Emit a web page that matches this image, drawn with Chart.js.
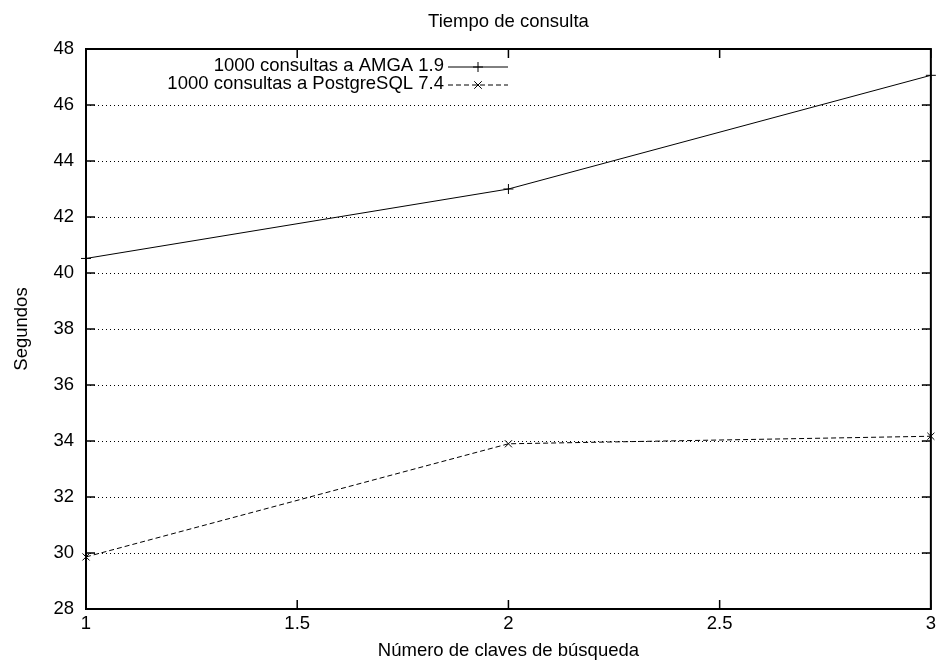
<!DOCTYPE html>
<html>
<head>
<meta charset="utf-8">
<script src="https://cdn.jsdelivr.net/npm/chart.js@4/dist/chart.umd.min.js"></script>
<style>
    html, body { margin: 0; padding: 0; background: #fff; }
    canvas { display: block; }
</style>
</head>
<body>
<canvas id="tiempoChart" width="940" height="664"></canvas>
<script>
// Data
const claves = [1, 2, 3];
const amgaSegundos = [40.52, 43.0, 47.06];
const postgresSegundos = [29.86, 33.9, 34.17];
const seriesLabels = ['1000 consultas a AMGA 1.9', '1000 consultas a PostgreSQL 7.4'];
const xTicks = [1, 1.5, 2, 2.5, 3];
const yTicks = [28, 30, 32, 34, 36, 38, 40, 42, 44, 46, 48];
const chartTitle = 'Tiempo de consulta';

const FONT = '"Liberation Sans", Arial, Helvetica, sans-serif';
const FONT_SIZE = 18.5;

const toPoints = (xs, ys) => xs.map((x, i) => ({ x: x, y: ys[i] }));

// Dotted horizontal grid, drawn under the data
const gridPlugin = {
    id: 'dottedGrid',
    beforeDatasetsDraw(chart) {
        const ctx = chart.ctx;
        const area = chart.chartArea;
        const ys = chart.scales.y;
        ctx.save();
        ctx.strokeStyle = '#000';
        ctx.lineWidth = 1;
        ctx.setLineDash([1, 3]);
        ctx.beginPath();
        yTicks.forEach(v => {
            const py = Math.round(ys.getPixelForValue(v)) + 0.5;
            ctx.moveTo(area.left, py);
            ctx.lineTo(area.right, py);
        });
        ctx.stroke();
        ctx.restore();
    }
};

// Draws the gnuplot-like frame, inward tick marks, title and legend
const framePlugin = {
    id: 'frame',
    afterDraw(chart) {
        const ctx = chart.ctx;
        const area = chart.chartArea;
        const xs = chart.scales.x;
        const ys = chart.scales.y;
        const tick = 9;

        ctx.save();
        ctx.strokeStyle = '#000';
        ctx.lineWidth = 1.5;
        ctx.setLineDash([]);

        // inward ticks
        ctx.beginPath();
        xTicks.forEach(v => {
            const px = xs.getPixelForValue(v);
            ctx.moveTo(px, area.bottom);
            ctx.lineTo(px, area.bottom - tick);
            ctx.moveTo(px, area.top);
            ctx.lineTo(px, area.top + tick);
        });
        yTicks.forEach(v => {
            const py = ys.getPixelForValue(v);
            ctx.moveTo(area.left, py);
            ctx.lineTo(area.left + tick, py);
            ctx.moveTo(area.right, py);
            ctx.lineTo(area.right - tick, py);
        });
        ctx.stroke();

        // border
        ctx.lineWidth = 2;
        ctx.strokeRect(area.left, area.top, area.right - area.left, area.bottom - area.top);

        // title, centred over the plot
        ctx.font = FONT_SIZE + 'px ' + FONT;
        ctx.fillStyle = '#000';
        ctx.textAlign = 'center';
        ctx.textBaseline = 'middle';
        ctx.fillText(chartTitle, (area.left + area.right) / 2, 22);

        // legend
        const textRight = 444;
        const sampleLeft = 448;
        const sampleRight = 508;
        const rows = [66, 84];
        ctx.textAlign = 'right';
        chart.data.datasets.forEach((ds, i) => {
            const y = rows[i];
            ctx.fillText(ds.label, textRight, y);
            ctx.lineWidth = 1;
            ctx.setLineDash(ds.borderDash || []);
            ctx.beginPath();
            ctx.moveTo(sampleLeft, y + 1);
            ctx.lineTo(sampleRight, y + 1);
            ctx.stroke();
            ctx.setLineDash([]);
            const cx = (sampleLeft + sampleRight) / 2;
            const r = ds.pointRadius;
            ctx.beginPath();
            if (ds.pointStyle === 'cross') {
                ctx.moveTo(cx - r, y + 1);
                ctx.lineTo(cx + r, y + 1);
                ctx.moveTo(cx, y + 1 - r);
                ctx.lineTo(cx, y + 1 + r);
            } else {
                const d = r * 0.75;
                ctx.moveTo(cx - d, y + 1 - d);
                ctx.lineTo(cx + d, y + 1 + d);
                ctx.moveTo(cx - d, y + 1 + d);
                ctx.lineTo(cx + d, y + 1 - d);
            }
            ctx.stroke();
        });
        ctx.restore();
    }
};

const ctx = document.getElementById('tiempoChart').getContext('2d');
const tiempoChart = new Chart(ctx, {
    type: 'line',
    data: {
        datasets: [{
            label: seriesLabels[0],
            data: toPoints(claves, amgaSegundos),
            borderColor: '#000',
            backgroundColor: '#000',
            borderWidth: 1,
            pointStyle: 'cross',
            pointRadius: 5,
            pointBorderWidth: 1,
            tension: 0,
            fill: false,
            clip: false
        }, {
            label: seriesLabels[1],
            data: toPoints(claves, postgresSegundos),
            borderColor: '#000',
            backgroundColor: '#000',
            borderWidth: 1,
            borderDash: [5, 3],
            pointStyle: 'crossRot',
            pointRadius: 5,
            pointBorderWidth: 1,
            tension: 0,
            fill: false,
            clip: false
        }]
    },
    options: {
        responsive: false,
        animation: false,
        events: [],
        layout: { padding: { top: 49, right: 9, left: 0, bottom: 0 } },
        plugins: {
            legend: { display: false },
            tooltip: { enabled: false },
            title: { display: false }
        },
        scales: {
            x: {
                type: 'linear',
                min: 1,
                max: 3,
                afterFit: scale => { scale.height = 55; },
                afterBuildTicks: scale => { scale.ticks = xTicks.map(v => ({ value: v })); },
                grid: { display: false, drawTicks: false },
                border: { display: false },
                ticks: {
                    color: '#000',
                    padding: 4,
                    maxRotation: 0,
                    font: { family: FONT, size: FONT_SIZE },
                    callback: v => String(v)
                },
                title: {
                    display: true,
                    text: 'Número de claves de búsqueda',
                    color: '#000',
                    font: { family: FONT, size: FONT_SIZE, lineHeight: 1.2 },
                    padding: { top: 0, bottom: 2 }
                }
            },
            y: {
                type: 'linear',
                min: 28,
                max: 48,
                afterFit: scale => { scale.width = 86; },
                afterBuildTicks: scale => { scale.ticks = yTicks.map(v => ({ value: v })); },
                grid: { display: false, drawTicks: false },
                border: { display: false },
                ticks: {
                    color: '#000',
                    padding: 12,
                    font: { family: FONT, size: FONT_SIZE },
                    callback: v => String(v)
                },
                title: {
                    display: true,
                    text: 'Segundos',
                    color: '#000',
                    font: { family: FONT, size: FONT_SIZE, lineHeight: 1.2 },
                    padding: { top: 11, bottom: 0 }
                }
            }
        }
    },
    plugins: [gridPlugin, framePlugin]
});
</script>
</body>
</html>
